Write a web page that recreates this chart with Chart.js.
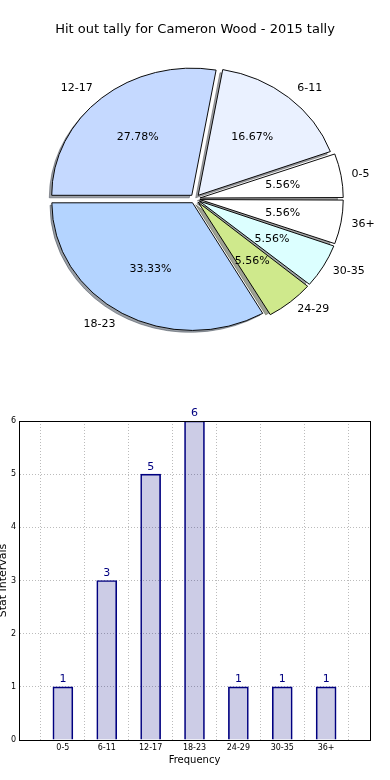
<!DOCTYPE html>
<html>
<head>
<meta charset="utf-8">
<script src="https://cdn.jsdelivr.net/npm/chart.js@4.4.0/dist/chart.umd.min.js"></script>
<style>
  html, body { margin: 0; padding: 0; background: #fff; }
  .box { position: absolute; left: 0; width: 390px; height: 390px; }
  #pieBox { top: 0; }
  #barBox { top: 390px; }
</style>
</head>
<body>
<div class="box" id="pieBox"><canvas id="graficoPizza"></canvas></div>
<div class="box" id="barBox"><canvas id="graficoBarra"></canvas></div>
<script>
const categories = ["0-5", "6-11", "12-17", "18-23", "24-29", "30-35", "36+"];
const tally = [1, 3, 5, 6, 1, 1, 1];
const sliceColors = ["#ffffff", "#eaf1ff", "#c5d9ff", "#b4d4ff", "#cfe98c", "#dcffff", "#ffffff"];
const yTicks = [0, 1, 2, 3, 4, 5, 6];

Chart.defaults.font.family = "'DejaVu Sans', sans-serif";
Chart.defaults.color = "#000";

const total = tally.reduce((a, b) => a + b, 0);
const flatY = 128 / 141; // pie is drawn a bit squashed, like the original

// pie: matplotlib goes counter-clockwise from 3 o'clock, chart.js clockwise -> reverse
const pieLabels = categories.slice().reverse();
const pieValues = tally.slice().reverse();
const pieColors = sliceColors.slice().reverse();

// shadow = 0.3 * face colour, half transparent
function shadeOf(hex) {
  const n = parseInt(hex.slice(1), 16);
  const r = Math.round(((n >> 16) & 255) * 0.3);
  const g = Math.round(((n >> 8) & 255) * 0.3);
  const b = Math.round((n & 255) * 0.3);
  return "rgba(" + r + "," + g + "," + b + ",0.5)";
}

const pieExtras = {
  id: "pieExtras",
  beforeDatasetsDraw(chart) {
    const ctx = chart.ctx;
    const a = chart.chartArea;
    const cx = (a.left + a.right) / 2;
    const cy = (a.top + a.bottom) / 2;
    ctx.save();
    ctx.translate(cx, cy);
    ctx.scale(1, flatY);
    ctx.translate(-cx, -cy);
    // shadows first
    const meta = chart.getDatasetMeta(0);
    ctx.save();
    ctx.translate(-2.5, 2.5 / flatY);
    meta.data.forEach((arc, i) => {
      const mid = (arc.startAngle + arc.endAngle) / 2;
      const shift = (arc.options.offset || 0) / 4;
      const ox = arc.x + Math.cos(mid) * shift;
      const oy = arc.y + Math.sin(mid) * shift;
      ctx.beginPath();
      ctx.moveTo(ox, oy);
      ctx.arc(ox, oy, arc.outerRadius, arc.startAngle, arc.endAngle);
      ctx.closePath();
      ctx.fillStyle = shadeOf(pieColors[i]);
      ctx.strokeStyle = shadeOf(pieColors[i]);
      ctx.lineWidth = 1;
      ctx.fill();
      ctx.stroke();
    });
    ctx.restore();
  },
  afterDatasetsDraw(chart) {
    const ctx = chart.ctx;
    ctx.restore();
    const meta = chart.getDatasetMeta(0);
    ctx.save();
    ctx.font = "11px 'DejaVu Sans'";
    ctx.fillStyle = "#000";
    ctx.textBaseline = "middle";
    meta.data.forEach((arc, i) => {
      const mid = (arc.startAngle + arc.endAngle) / 2;
      const shift = (arc.options.offset || 0) / 4;
      const R = arc.outerRadius;
      const px = (d) => arc.x + Math.cos(mid) * (shift + d * R);
      const py = (d) => arc.y + Math.sin(mid) * (shift + d * R) * flatY;
      // outer label
      const lx = px(1.1);
      ctx.textAlign = lx >= arc.x ? "left" : "right";
      ctx.fillText(pieLabels[i], lx, py(1.1));
      // percentage
      ctx.textAlign = "center";
      ctx.fillText((pieValues[i] / total * 100).toFixed(2) + "%", px(0.6), py(0.6));
    });
    ctx.restore();
  }
};

new Chart(document.getElementById("graficoPizza"), {
  type: "pie",
  data: {
    labels: pieLabels,
    datasets: [{
      data: pieValues,
      backgroundColor: pieColors,
      borderColor: "#000",
      borderWidth: 1,
      offset: 20,
      radius: 140
    }]
  },
  options: {
    responsive: true,
    maintainAspectRatio: false,
    animation: false,
    rotation: 90,
    layout: { padding: { top: 0, bottom: 30 } },
    plugins: {
      legend: { display: false },
      tooltip: { enabled: false },
      title: {
        display: true,
        text: "Hit out tally for Cameron Wood - 2015 tally",
        color: "#000",
        font: { size: 13, weight: "normal" },
        padding: { top: 22, bottom: 0 }
      }
    }
  },
  plugins: [pieExtras]
});

// bar chart, empty slot at both ends like the original x range
const xLabels = [""].concat(categories, [""]);
const barData = [null].concat(tally, [null]);

const barExtras = {
  id: "barExtras",
  afterDatasetsDraw(chart) {
    const ctx = chart.ctx;
    const a = chart.chartArea;
    ctx.save();
    ctx.strokeStyle = "#000";
    ctx.lineWidth = 1;
    ctx.strokeRect(Math.round(a.left) + 0.5, Math.round(a.top) + 0.5, Math.round(a.width), Math.round(a.height));
    ctx.font = "11px 'DejaVu Sans'";
    ctx.fillStyle = "#000080";
    ctx.textAlign = "center";
    ctx.textBaseline = "bottom";
    chart.getDatasetMeta(0).data.forEach((bar, i) => {
      if (barData[i] == null) return;
      ctx.fillText(String(barData[i]), bar.x, bar.y - 2);
    });
    ctx.restore();
  }
};

new Chart(document.getElementById("graficoBarra"), {
  type: "bar",
  data: {
    labels: xLabels,
    datasets: [{
      data: barData,
      backgroundColor: "rgba(0,0,128,0.2)",
      borderColor: "#000080",
      borderWidth: 1,
      barThickness: 20
    }]
  },
  options: {
    responsive: true,
    maintainAspectRatio: false,
    animation: false,
    layout: { padding: { top: 31, right: 20, left: 0, bottom: 0 } },
    plugins: {
      legend: { display: false },
      tooltip: { enabled: false }
    },
    scales: {
      x: {
        offset: false,
        ticks: { padding: 3, color: "#000", font: { size: 8 }, autoSkip: false, maxRotation: 0 },
        grid: { color: "#bbbbbb", drawTicks: false },
        border: { color: "#000", dash: [1, 2] },
        title: { display: true, text: "Frequency", color: "#000", font: { size: 10 }, padding: { top: 0, bottom: 14 } },
        afterFit: (s) => { s.height = 40; }
      },
      y: {
        min: yTicks[0],
        max: yTicks[yTicks.length - 1],
        ticks: { stepSize: 1, padding: 3, color: "#000", font: { size: 8 } },
        grid: { color: "#bbbbbb", drawTicks: false },
        border: { color: "#000", dash: [1, 2] },
        title: { display: true, text: "Stat Intervals", color: "#000", font: { size: 11 }, padding: { top: -3, bottom: 0 } },
        afterFit: (s) => { s.width = 19; }
      }
    }
  },
  plugins: [barExtras]
});
</script>
</body>
</html>
